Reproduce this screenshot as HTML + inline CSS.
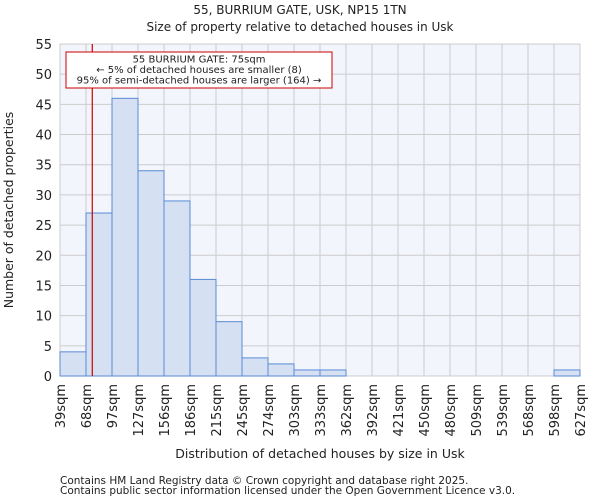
<!DOCTYPE html>
<html><head><meta charset="utf-8"><style>
body{margin:0;background:#fff;font-family:"DejaVu Sans","Liberation Sans",sans-serif;}
svg text{font-family:"DejaVu Sans","Liberation Sans",sans-serif;fill:#222;}
</style></head><body>
<svg id="chart" width="600" height="500" xmlns="http://www.w3.org/2000/svg">
<text x="300" y="14" text-anchor="middle" font-size="12">55, BURRIUM GATE, USK, NP15 1TN</text>
<text x="300" y="31" text-anchor="middle" font-size="12">Size of property relative to detached houses in Usk</text>
<rect x="60" y="44" width="520" height="332" fill="#f2f5fc"/>
<g id="grid"></g><g id="bars"></g><g id="axes"></g>
<text x="320" y="458" text-anchor="middle" font-size="12.5">Distribution of detached houses by size in Usk</text>
<text transform="translate(13,210) rotate(-90)" text-anchor="middle" font-size="12.5">Number of detached properties</text>
<text x="60" y="484" font-size="10.5" fill="#444">Contains HM Land Registry data © Crown copyright and database right 2025.</text>
<text x="60" y="494" font-size="10.5" fill="#444">Contains public sector information licensed under the Open Government Licence v3.0.</text>
</svg>
<script>
const binLabels=["39sqm","68sqm","97sqm","127sqm","156sqm","186sqm","215sqm","245sqm","274sqm","303sqm","333sqm","362sqm","392sqm","421sqm","450sqm","480sqm","509sqm","539sqm","568sqm","598sqm","627sqm"];
const counts=[4,27,46,34,29,16,9,3,2,1,1,0,0,0,0,0,0,0,0,1];
const yTicks=[0,5,10,15,20,25,30,35,40,45,50,55];
const binEdges=[39,68,97,127,156,186,215,245,274,303,333,362,392,421,450,480,509,539,568,598,627];
const propertySize=75;
const NS="http://www.w3.org/2000/svg";
const X0=60,X1=580,Y0=376,Y1=44,YMAX=55;
const nb=counts.length;
const xb=i=>X0+(X1-X0)*i/nb;
const xv=v=>{for(let i=0;i<binEdges.length-1;i++){if(v<=binEdges[i+1])return xb(i)+(v-binEdges[i])/(binEdges[i+1]-binEdges[i])*(xb(i+1)-xb(i));}return X1;};
const y=v=>Y0-(Y0-Y1)*v/YMAX;
function mk(t,a,p){const e=document.createElementNS(NS,t);for(const k in a)e.setAttribute(k,a[k]);p.appendChild(e);return e;}
const grid=document.getElementById('grid'),bars=document.getElementById('bars'),axes=document.getElementById('axes');
yTicks.forEach(t=>{
const l=mk('line',{x1:X0,x2:X1,y1:y(t),y2:y(t),stroke:'#cccccc','stroke-width':1},grid);


const tx=mk('text',{x:X0-8,y:y(t)+5,'text-anchor':'end','font-size':13},axes);
tx.textContent=t;


});
binLabels.forEach((s,i)=>{
const l=mk('line',{x1:xb(i),x2:xb(i),y1:Y1,y2:Y0,stroke:'#cccccc','stroke-width':1},grid);


const tx=mk('text',{transform:`translate(${xb(i)+5},${Y0+8}) rotate(-90)`,'text-anchor':'end','font-size':13},axes);
tx.textContent=s;


});
counts.forEach((c,i)=>{
if(c<=0)return;
const r=mk('rect',{x:xb(i),y:y(c),width:xb(i+1)-xb(i),height:Y0-y(c),fill:'#d6e0f3',stroke:'#5a8ad6','stroke-width':1},bars);


});
const px=xv(propertySize);
const ml=mk('line',{x1:px,x2:px,y1:Y1,y2:Y0,stroke:'#cc0000','stroke-width':1.2},axes);


const box=mk('rect',{x:66,y:52,width:266,height:36,fill:'#fff',stroke:'#cc0000','stroke-width':1},axes);


["55 BURRIUM GATE: 75sqm","← 5% of detached houses are smaller (8)","95% of semi-detached houses are larger (164) →"].forEach((s,i)=>{
const t=mk('text',{x:199,y:62.5+i*10.5,'text-anchor':'middle','font-size':10},axes);
t.textContent=s;


});
</script>
</body></html>
